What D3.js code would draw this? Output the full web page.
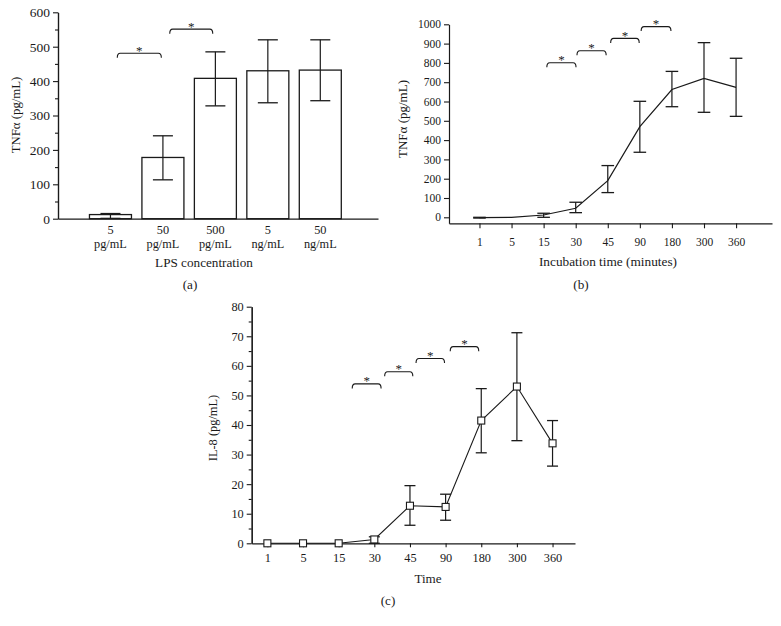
<!DOCTYPE html>
<html><head><meta charset="utf-8">
<script src="https://cdn.jsdelivr.net/npm/d3@7"></script>
<style>
body{margin:0;background:#fff;}
svg{display:block;}
text{font-family:"Liberation Serif","Times New Roman",serif;fill:#1a1a1a;}
</style></head>
<body><svg id="c" width="781" height="626"></svg>
<script>
// ---------- Data ----------
const concA = ["5","50","500","5","50"];
const unitA = ["pg/mL","pg/mL","pg/mL","ng/mL","ng/mL"];
const meanA = [12,178,408,430,432];
const loA = [1,113,328,337,343];
const hiA = [15,241,485,520,520];
const bracketsA = [[1.13,1.97,481],[2.13,2.95,551]];
const yTicksA = [0,100,200,300,400,500,600];

const timesB = ["1","5","15","30","45","90","180","300","360"];
const meanB = [-2,0,12,47,190,470,662,720,673];
const loB = [-4,null,0,24,128,337,573,544,523];
const hiB = [0,null,21,78,268,601,756,905,824];
const bracketsB = [[3.1,4.01,801],[4.04,4.95,863],[5.09,5.98,927],[6.04,6.97,988]];
const yTicksB = [0,100,200,300,400,500,600,700,800,900,1000];

const timesC = ["1","5","15","30","45","90","180","300","360"];
const meanC = [0,0,0,1.3,12.7,12.3,41.5,53,33.8];
const loC = [null,null,null,0,6.1,7.8,30.6,34.7,26.1];
const hiC = [null,null,null,2.2,19.5,16.6,52.3,71.2,41.5];
const bracketsC = [[3.38,4.19,53.9],[4.29,5.08,58],[5.17,5.97,62.5],[6.13,6.93,66.5]];
const yTicksC = [0,10,20,30,40,50,60,70,80];

// ---------- Helpers ----------
const svg = d3.select("#c");
const INK = "#1a1a1a";
function styleAxis(g, fs){
  g.selectAll("path.domain").attr("stroke",INK).attr("stroke-width",1.2);
  g.selectAll(".tick line").attr("stroke",INK).attr("stroke-width",1.1);
  g.selectAll("text").attr("font-size",fs).attr("fill",INK)
   .style("font-family",'"Liberation Serif","Times New Roman",serif');
}
function drawBrackets(g, br, x, y){
  g.selectAll("path.br").data(br).enter().append("path")
   .attr("fill","none").attr("stroke",INK).attr("stroke-width",1.1)
   .attr("d", d=>{
     const x1=x(d[0]), x2=x(d[1]), yy=y(d[2]), h=4.5, r=3;
     return `M${x1},${yy+h} Q${x1},${yy} ${x1+r},${yy} L${x2-r},${yy} Q${x2},${yy} ${x2},${yy+h}`;
   });
  g.selectAll("text.star").data(br).enter().append("text")
   .attr("x",d=>(x(d[0])+x(d[1]))/2).attr("y",d=>y(d[2])+1.5)
   .attr("text-anchor","middle").attr("font-size",13).text("*");
}
function drawErr(g, idx, lo, hi, x, y, cap){
  const d = idx.filter(i=>lo[i]!==null);
  g.selectAll(null).data(d).enter().append("line")
   .attr("x1",i=>x(i+1)).attr("x2",i=>x(i+1)).attr("y1",i=>y(lo[i])).attr("y2",i=>y(hi[i]))
   .attr("stroke",INK).attr("stroke-width",1.2);
  [lo,hi].forEach(arr=>{
    g.selectAll(null).data(d).enter().append("line")
     .attr("x1",i=>x(i+1)-cap).attr("x2",i=>x(i+1)+cap)
     .attr("y1",i=>y(arr[i])).attr("y2",i=>y(arr[i]))
     .attr("stroke",INK).attr("stroke-width",1.3);
  });
}

// ---------- Panel (a) ----------
(function(){
  const g = svg.append("g");
  const fs = 13.5;
  const x = d3.scaleLinear().domain([0,6.1]).range([58,378]);
  const y = d3.scaleLinear().domain([0,600]).range([218.7,12.3]);
  const idx = d3.range(meanA.length);
  const bw = 42;
  g.selectAll("rect").data(idx).enter().append("rect")
   .attr("x",i=>x(i+1)-bw/2).attr("width",bw)
   .attr("y",i=>y(meanA[i])).attr("height",i=>y(0)-y(meanA[i]))
   .attr("fill","#fff").attr("stroke",INK).attr("stroke-width",1.3);
  drawErr(g, idx, loA, hiA, x, y, 10);
  const minor = g.append("g").attr("transform",`translate(${x(0)},0)`)
    .call(d3.axisLeft(y).tickValues(d3.range(50,600,100)).tickSize(3).tickFormat("").tickSizeOuter(0));
  styleAxis(minor, fs);
  const ya = g.append("g").attr("transform",`translate(${x(0)},0)`)
    .call(d3.axisLeft(y).tickValues(yTicksA).tickSize(5).tickPadding(3).tickSizeOuter(0));
  styleAxis(ya, fs);
  const xa = g.append("g").attr("transform",`translate(0,${y(0)})`)
    .call(d3.axisBottom(x).tickValues([]).tickSizeOuter(0));
  styleAxis(xa, fs);
  g.selectAll("text.c1").data(idx).enter().append("text")
   .attr("x",i=>x(i+1)).attr("y",233.5).attr("text-anchor","middle").attr("font-size",12.3).text(i=>concA[i]);
  g.selectAll("text.c2").data(idx).enter().append("text")
   .attr("x",i=>x(i+1)).attr("y",247.5).attr("text-anchor","middle").attr("font-size",12.3).text(i=>unitA[i]);
  g.append("text").attr("x",204).attr("y",267).attr("text-anchor","middle").attr("font-size",13.2).text("LPS concentration");
  g.append("text").attr("x",190).attr("y",289).attr("text-anchor","middle").attr("font-size",13.2).text("(a)");
  g.append("text").attr("transform","translate(19.5,115) rotate(-90)").attr("text-anchor","middle").attr("font-size",12.8).text("TNFα (pg/mL)");
  drawBrackets(g, bracketsA, x, y);
})();

// ---------- Panel (b) ----------
(function(){
  const g = svg.append("g");
  const fs = 11.5;
  const x = d3.scaleLinear().domain([0.05,10.12]).range([449,772]);
  const y = d3.scaleLinear().domain([0,1000]).range([217.3,24.3]);
  const yAx = d3.scaleLinear().domain([y.invert(223.3),1000]).range([223.3,24.3]);
  const idx = d3.range(meanB.length);
  const ya = g.append("g").attr("transform",`translate(449,0)`)
    .call(d3.axisLeft(yAx).tickValues(yTicksB).tickFormat(d3.format("d")).tickSize(5).tickPadding(3).tickSizeOuter(0));
  styleAxis(ya, fs);
  const xa = g.append("g").attr("transform",`translate(0,223.3)`)
    .call(d3.axisBottom(x).tickValues(d3.range(1,10)).tickFormat(d=>timesB[d-1]).tickSize(5).tickPadding(9.5).tickSizeOuter(0));
  styleAxis(xa, fs);
  const line = d3.line().x(i=>x(i+1)).y(i=>y(meanB[i]));
  g.append("path").datum(idx).attr("d",line).attr("fill","none").attr("stroke",INK).attr("stroke-width",1.2);
  drawErr(g, idx, loB, hiB, x, y, 6.3);
  g.append("text").attr("x",608).attr("y",266).attr("text-anchor","middle").attr("font-size",13.3).text("Incubation time (minutes)");
  g.append("text").attr("x",581).attr("y",289).attr("text-anchor","middle").attr("font-size",13.2).text("(b)");
  g.append("text").attr("transform","translate(407,119) rotate(-90)").attr("text-anchor","middle").attr("font-size",13).text("TNFα (pg/mL)");
  drawBrackets(g, bracketsB, x, y);
})();

// ---------- Panel (c) ----------
(function(){
  const g = svg.append("g");
  const fs = 12.3;
  const x = d3.scaleLinear().domain([0.56,9.63]).range([251.7,575]);
  const y = d3.scaleLinear().domain([0,80]).range([543.3,306.7]);
  const idx = d3.range(meanC.length);
  const minor = g.append("g").attr("transform",`translate(251.7,0)`)
    .call(d3.axisLeft(y).tickValues(d3.range(5,80,10)).tickSize(3).tickFormat("").tickSizeOuter(0));
  styleAxis(minor, fs);
  const ya = g.append("g").attr("transform",`translate(251.7,0)`)
    .call(d3.axisLeft(y).tickValues(yTicksC).tickSize(5).tickPadding(3).tickSizeOuter(0));
  styleAxis(ya, fs);
  const xa = g.append("g").attr("transform",`translate(0,${y(0)})`)
    .call(d3.axisBottom(x).tickValues(d3.range(1,10)).tickFormat(d=>timesC[d-1]).tickSize(4).tickPadding(6).tickSizeOuter(0));
  styleAxis(xa, fs);
  const line = d3.line().x(i=>x(i+1)).y(i=>y(meanC[i]));
  drawErr(g, idx, loC, hiC, x, y, 5.5);
  g.append("path").datum(idx).attr("d",line).attr("fill","none").attr("stroke",INK).attr("stroke-width",1.1);
  const s = 7;
  g.selectAll("rect.m").data(idx).enter().append("rect")
   .attr("x",i=>x(i+1)-s/2).attr("y",i=>y(meanC[i])-s/2).attr("width",s).attr("height",s)
   .attr("fill","#fff").attr("stroke",INK).attr("stroke-width",1.1);
  g.append("text").attr("x",428).attr("y",583).attr("text-anchor","middle").attr("font-size",13.1).text("Time");
  g.append("text").attr("x",388).attr("y",605).attr("text-anchor","middle").attr("font-size",13.1).text("(c)");
  g.append("text").attr("transform","translate(217,428) rotate(-90)").attr("text-anchor","middle").attr("font-size",12.4).text("IL-8 (pg/mL)");
  drawBrackets(g, bracketsC, x, y);
})();
</script></body></html>
